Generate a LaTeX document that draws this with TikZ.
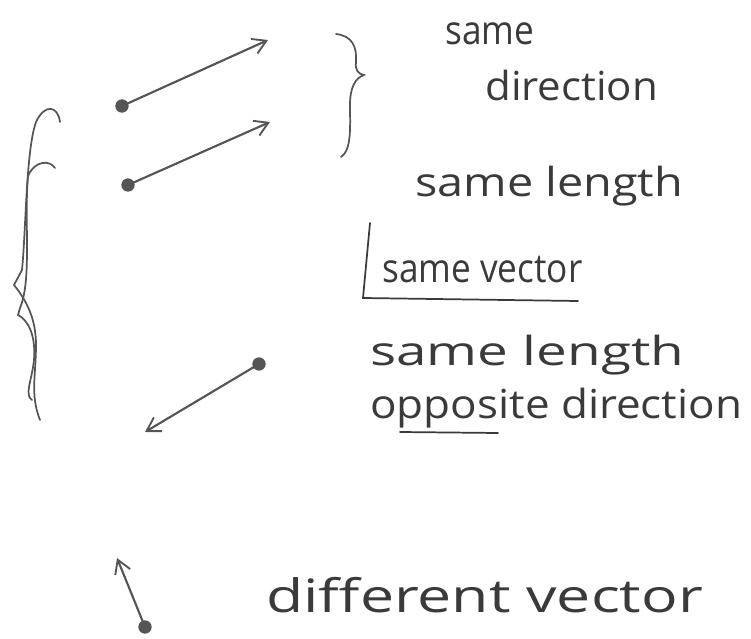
\documentclass[tikz,border=0pt]{standalone}
\usepackage{fontspec}
\usepackage{graphicx}
\setmainfont{Open Sans}
\usetikzlibrary{arrows.meta}
\definecolor{pen}{HTML}{555555}
\definecolor{ink}{HTML}{3A3A3A}
\tikzset{
  vec/.style={draw=pen, line width=1.6pt, -{Straight Barb[length=10pt,width=12pt,line width=1.4pt]}},
  tail/.style={circle, fill=pen, inner sep=0pt, minimum size=10pt},
  hand/.style={text=ink, font=\fontsize{30}{32}\selectfont, inner sep=0pt, anchor=base west},
  underl/.style={draw=ink, line width=1.3pt, line cap=round},
  brace/.style={draw=pen, line width=1.3pt, line cap=round}
}
\begin{document}
\begin{tikzpicture}[x=0.75pt, y=-0.75pt]
\useasboundingbox (0,0) rectangle (751,639);

% vectors
\node[tail] (t1) at (122,106) {};
\coordinate (h1) at (268,40);
\draw[vec] (t1.center) -- (h1);
\node[tail] (t2) at (128,185) {};
\coordinate (h2) at (270,122);
\draw[vec] (t2.center) -- (h2);
\node[tail] (t3) at (259,364) {};
\coordinate (h3) at (145,432);
\draw[vec] (t3.center) -- (h3);
\node[tail] (t4) at (145,627) {};
\coordinate (h4) at (117,558);
\draw[vec] (t4.center) -- (h4);

% right brace
\draw[brace] (336,34) .. controls (352,36) and (357,46) .. (356,62)
  .. controls (355,70) and (358,74) .. (364,75)
  .. controls (355,78) and (350,88) .. (350,105)
  .. controls (350,125) and (352,150) .. (341,157);

% left braces
\draw[brace] (60,122) .. controls (58,106) and (45,103) .. (36,122)
  .. controls (26,150) and (26,230) .. (22,270)
  -- (14,285)
  .. controls (26,300) and (36,318) .. (36,345)
  .. controls (36,375) and (30,395) .. (40,420);
\draw[brace] (55,168) .. controls (50,160) and (35,160) .. (28,176)
  .. controls (24,220) and (32,280) .. (20,308)
  -- (18,315)
  .. controls (28,320) and (36,335) .. (34,360)
  .. controls (32,380) and (24,395) .. (32,400);

% texts
\node[hand] (s1) at (445,45) {\scalebox{0.88}[1.0]{same}};
\node[hand] (s2) at (485,100) {\scalebox{1.05}[1.0]{direction}};
\node[hand] (s3) at (415,196) {\scalebox{1.17}[1.0]{same length}};
\node[hand] (s4) at (382,282) {\scalebox{0.88}[1.0]{same vector}};
\draw[underl] (370,223) -- (363,298) -- (578,301);
\node[hand] (s5) at (370,365) {\scalebox{1.37}[1.0]{same length}};
\node[hand] (s6) at (370,418) {\scalebox{1.10}[1.0]{opposite direction}};
\draw[underl] (400,432) -- (498,433);
\node[hand] (s7) at (266,612) {\scalebox{1.52}[1.15]{different vector}};
\end{tikzpicture}
\end{document}
